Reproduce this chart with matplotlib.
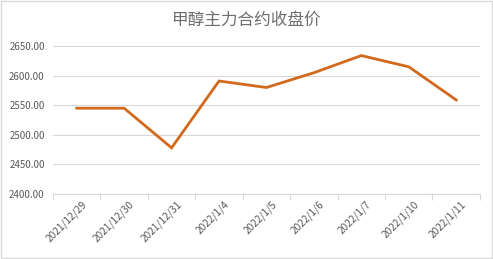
import matplotlib.pyplot as plt
from matplotlib.patches import Rectangle

# data
dates = ["2021/12/29", "2021/12/30", "2021/12/31", "2022/1/4", "2022/1/5",
         "2022/1/6", "2022/1/7", "2022/1/10", "2022/1/11"]
close = [2545, 2545, 2478, 2591, 2580, 2605, 2634, 2615, 2559]
yticks = [2400, 2450, 2500, 2550, 2600, 2650]

plt.rcParams['font.family'] = ['Noto Sans CJK SC', 'DejaVu Sans']

fig = plt.figure(figsize=(4.93, 2.59), dpi=100)
fig.patches.append(Rectangle((0.002, 0.004), 0.995, 0.992, transform=fig.transFigure,
                             fill=False, edgecolor="#D9D9D9", linewidth=1))
ax = fig.add_axes([0.1075, 0.251, 0.866, 0.571])

x = list(range(len(dates)))
ax.plot(x, close, color="#D26A1E", linewidth=2.0, solid_joinstyle="miter")

ax.set_xlim(-0.5, len(dates) - 0.5)
ax.set_ylim(2400, 2650)
ax.set_yticks(yticks)
ax.set_yticklabels([f"{v:.2f}" for v in yticks])
ax.grid(axis="y", color="#D9D9D9", linewidth=0.8)
ax.set_axisbelow(True)

# category boundary ticks
ax.set_xticks([i - 0.5 for i in range(len(dates) + 1)])
ax.set_xticklabels([])
ax.tick_params(axis="x", length=4, color="#D9D9D9", width=0.8)
ax.tick_params(axis="y", length=0, labelsize=7, labelcolor="#595959", pad=6)
for i, d in enumerate(dates):
    ax.text(i + 0.1, 2400 - 9, d, rotation=45, ha="right", va="top",
            rotation_mode="anchor", fontsize=7.3, color="#595959")

for s in ["left", "right", "top"]:
    ax.spines[s].set_visible(False)
ax.spines["bottom"].set_color("#D9D9D9")

fig.text(0.5, 0.92, "甲醇主力合约收盘价", ha="center", va="center",
         fontsize=12, color="#6E6E6E", fontweight="light")

fig.savefig("out.png", dpi=100)
